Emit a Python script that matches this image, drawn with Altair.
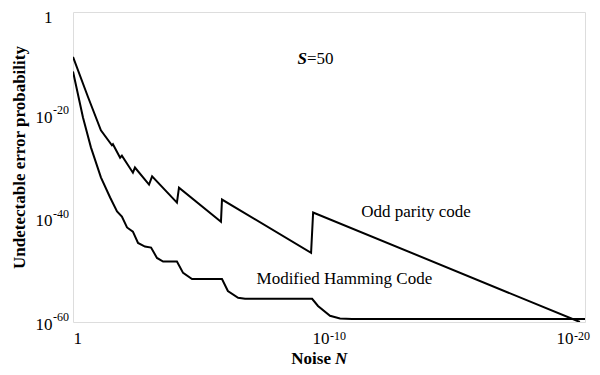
import altair as alt
import pandas as pd

# Exponents (log10) of noise N and of the probability
odd_noise_exp = [0, -0.59, -1.09, -1.52, -1.56, -1.84, -1.91, -2.34, -2.42, -2.97, -3.09,
                 -4.06, -4.14, -5.78, -5.82, -9.30, -9.38, -19.8]
odd_prob_exp = [-8.7, -16.5, -22.9, -25.8, -25.6, -28.2, -27.8, -31.1, -30.1, -33.4, -31.8,
                -36.9, -34.0, -40.6, -36.3, -46.6, -38.8, -60.0]

ham_noise_exp = [0, -0.39, -0.70, -1.09, -1.45, -1.72, -1.91, -2.11, -2.34, -2.54, -2.81,
                 -3.05, -3.28, -3.52, -4.06, -4.30, -4.65, -5.82, -6.05, -6.45, -6.72,
                 -9.34, -9.57, -10.04, -10.43, -10.9, -20.0]
ham_prob_exp = [-11.5, -20.4, -26.2, -32.0, -35.9, -38.6, -39.6, -41.7, -42.5, -44.7, -45.4,
                -45.6, -47.6, -48.3, -48.3, -50.5, -51.7, -51.7, -54.0, -55.3, -55.5,
                -55.5, -56.9, -58.8, -59.3, -59.4, -59.4]

series_names = ["Odd parity code", "Modified Hamming Code"]

x_tick_values = [1, 1e-10, 1e-20]
y_tick_values = [1, 1e-20, 1e-40, 1e-60]
y_tick_exponents = ["", "-20", "-40", "-60"]
x_tick_exponents = ["", "-10", "-20"]

# annotations (text, log10 N, log10 P)
ann_texts = ["Odd parity code", "Modified Hamming Code"]
ann_noise_exp = [-13.4, -10.6]
ann_prob_exp = [-38.8, -51.7]
s_label_noise_exp = -9.14
s_label_prob_exp = -9.1

rows = []
for name, xs, ys in [(series_names[0], odd_noise_exp, odd_prob_exp),
                     (series_names[1], ham_noise_exp, ham_prob_exp)]:
    for i, (a, b) in enumerate(zip(xs, ys)):
        rows.append({"series": name, "order": i, "N": 10 ** a, "P": 10 ** b})
df = pd.DataFrame(rows)

ann_df = pd.DataFrame({"text": ann_texts,
                       "N": [10 ** v for v in ann_noise_exp],
                       "P": [10 ** v for v in ann_prob_exp]})
s_df = pd.DataFrame({"N": [10 ** s_label_noise_exp], "P": [10 ** s_label_prob_exp]})
yexp_df = pd.DataFrame({"P": y_tick_values, "t": y_tick_exponents})
xexp_df = pd.DataFrame({"N": x_tick_values, "t": x_tick_exponents})

FONT = "Liberation Serif"

xscale = alt.Scale(type="log", domain=[1e-20, 1], reverse=True, nice=False)
yscale = alt.Scale(type="log", domain=[1e-60, 1], nice=False)

xaxis = alt.Axis(values=x_tick_values, title=None, grid=False, ticks=False, domain=False,
                 labelFont=FONT, labelFontSize=17, labelColor="black", labelPadding=8,
                 labelAlign={"condition": {"test": "datum.value >= 0.5", "value": "left"}, "value": "right"},
                 labelOffset={"condition": {"test": "datum.value < 1e-15", "value": -12}, "value": 0},
                 labelExpr="datum.value >= 0.5 ? '1' : '10'")
yaxis = alt.Axis(values=y_tick_values, title="Undetectable error probability", grid=False,
                 ticks=False, domain=False, labelFont=FONT, labelFontSize=17,
                 labelColor="black", labelPadding=21,
                 labelOffset={"condition": {"test": "datum.value >= 0.5", "value": 5}, "value": 2},
                 labelExpr="datum.value >= 0.5 ? '1' : '10'",
                 titleFont=FONT, titleFontSize=17, titleFontWeight="bold", titleColor="black",
                 titleY=145, titleX=-45)

lines = alt.Chart(df).mark_line(color="black", strokeWidth=2, clip=True).encode(
    x=alt.X("N:Q", scale=xscale, axis=xaxis),
    y=alt.Y("P:Q", scale=yscale, axis=yaxis),
    detail="series:N",
    order="order:Q",
)

# exponent parts of the tick labels
yexp = alt.Chart(yexp_df).mark_text(font=FONT, fontSize=12, color="black", align="left",
                                    baseline="middle", dy=-5).encode(
    x=alt.value(-20), y=alt.Y("P:Q", scale=yscale), text="t:N")
xexp_mid = alt.Chart(xexp_df).transform_filter("datum.N < 0.5 && datum.N > 1e-15").mark_text(
    font=FONT, fontSize=12, color="black", align="left", baseline="middle", dx=1).encode(
    x=alt.X("N:Q", scale=xscale), y=alt.value(324), text="t:N")
xexp_end = alt.Chart(xexp_df).transform_filter("datum.N < 1e-15").mark_text(
    font=FONT, fontSize=12, color="black", align="left", baseline="middle", dx=-11).encode(
    x=alt.X("N:Q", scale=xscale), y=alt.value(324), text="t:N")

ann = alt.Chart(ann_df).mark_text(font=FONT, fontSize=17, color="black", baseline="middle").encode(
    x=alt.X("N:Q", scale=xscale), y=alt.Y("P:Q", scale=yscale), text="text:N")

s_italic = alt.Chart(s_df).mark_text(font=FONT, fontSize=17, fontWeight="bold", fontStyle="italic",
                                     color="black", align="right", baseline="middle", text="S").encode(
    x=alt.X("N:Q", scale=xscale), y=alt.Y("P:Q", scale=yscale))
s_eq = alt.Chart(s_df).mark_text(font=FONT, fontSize=17, color="black", align="left",
                                 baseline="middle", text="=50").encode(
    x=alt.X("N:Q", scale=xscale), y=alt.Y("P:Q", scale=yscale))

noise_word = alt.Chart(s_df).mark_text(font=FONT, fontSize=17, fontWeight="bold", color="black",
                                       align="right", baseline="middle", text="Noise").encode(
    x=alt.value(258), y=alt.value(347))
noise_n = alt.Chart(s_df).mark_text(font=FONT, fontSize=17, fontWeight="bold", fontStyle="italic",
                                    color="black", align="left", baseline="middle", text="N").encode(
    x=alt.value(262), y=alt.value(347))

chart = alt.layer(lines, yexp, xexp_mid, xexp_end, ann, s_italic, s_eq, noise_word, noise_n).properties(
    width=512, height=310,
    padding={"left": 65, "top": 4, "right": 7, "bottom": 45},
    autosize=alt.AutoSizeParams(type="none"),
).configure_view(stroke="black", strokeWidth=2).configure(background="white")

chart.save("out.html", embed_options={"renderer": "svg", "actions": False})
